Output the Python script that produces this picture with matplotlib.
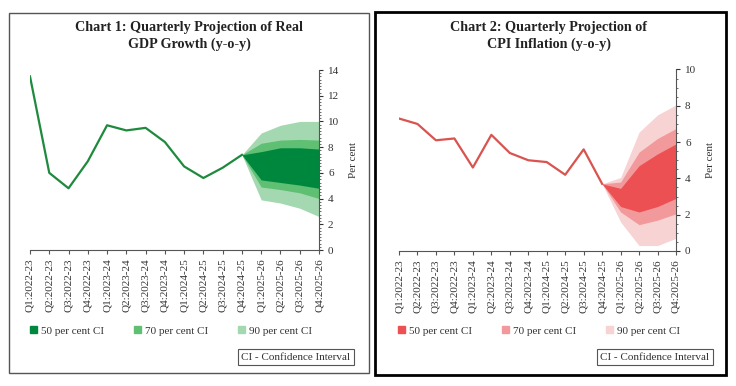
import matplotlib
matplotlib.use("Agg")
import matplotlib.pyplot as plt
from matplotlib.patches import Patch, Rectangle
from matplotlib.ticker import MultipleLocator

plt.rcParams['font.family'] = ['Liberation Serif', 'DejaVu Serif']

quarters = ["Q1:2022-23", "Q2:2022-23", "Q3:2022-23", "Q4:2022-23",
            "Q1:2023-24", "Q2:2023-24", "Q3:2023-24", "Q4:2023-24",
            "Q1:2024-25", "Q2:2024-25", "Q3:2024-25", "Q4:2024-25",
            "Q1:2025-26", "Q2:2025-26", "Q3:2025-26", "Q4:2025-26"]

# actual values (Q1:2022-23 .. Q4:2024-25)
gdp_actual = [13.5, 6.0, 4.8, 6.9, 9.7, 9.3, 9.5, 8.4, 6.5, 5.6, 6.4, 7.4]
cpi_actual = [7.3, 7.0, 6.1, 6.2, 4.6, 6.4, 5.4, 5.0, 4.9, 4.2, 5.6, 3.7]

# fan bands, Q4:2024-25 .. Q4:2025-26
gdp_90_hi = [7.4, 9.1, 9.7, 10.0, 10.0]
gdp_70_hi = [7.4, 8.3, 8.55, 8.6, 8.55]
gdp_50_hi = [7.4, 7.65, 7.95, 7.95, 7.85]
gdp_50_lo = [7.4, 5.45, 5.25, 5.05, 4.8]
gdp_70_lo = [7.4, 4.9, 4.7, 4.45, 4.0]
gdp_90_lo = [7.4, 3.9, 3.65, 3.25, 2.6]

cpi_90_hi = [3.7, 4.05, 6.55, 7.5, 8.05]
cpi_70_hi = [3.7, 3.8, 5.45, 6.2, 6.75]
cpi_50_hi = [3.7, 3.45, 4.7, 5.35, 5.9]
cpi_50_lo = [3.7, 2.45, 2.15, 2.45, 2.9]
cpi_70_lo = [3.7, 2.15, 1.45, 1.7, 2.05]
cpi_90_lo = [3.7, 1.6, 0.3, 0.3, 0.7]

W, H = 736, 386
fig = plt.figure(figsize=(W / 100, H / 100), dpi=100)


def px(x0, y0, x1, y1):
    return [x0 / W, 1 - y1 / H, (x1 - x0) / W, (y1 - y0) / H]


def panel(rect, lw, color):
    fig.patches.append(Rectangle((rect[0], rect[1]), rect[2], rect[3],
                                 transform=fig.transFigure, fill=False,
                                 lw=lw, edgecolor=color))


def draw(ax, actual, bands, colors, line_color, ymax, minor, title,
         title_x, legend_x, box_x):
    x = list(range(len(quarters)))
    xf = x[len(actual) - 1:]
    hi90, hi70, hi50, lo50, lo70, lo90 = bands
    ax.fill_between(xf, lo90, hi90, color=colors[2], lw=0)
    ax.fill_between(xf, lo70, hi70, color=colors[1], lw=0)
    ax.fill_between(xf, lo50, hi50, color=colors[0], lw=0)
    ax.plot(x[:len(actual)], actual, color=line_color, lw=1.6)

    ax.set_xlim(0, len(quarters) - 1)
    ax.set_ylim(0, ymax)
    ax.set_xticks(x)
    ax.set_xticklabels(quarters, rotation=90, fontsize=8, color='#333333')
    ax.yaxis.tick_right()
    ax.yaxis.set_label_position('right')
    ax.yaxis.set_major_locator(MultipleLocator(2))
    ax.yaxis.set_minor_locator(MultipleLocator(minor))
    ax.tick_params(axis='y', labelsize=8, colors='#333333', length=3)
    ax.tick_params(axis='y', which='minor', length=1.5, color='#555555')
    ax.tick_params(axis='x', length=3, color='#555555', pad=3)
    ax.set_ylabel('Per cent', fontsize=8, color='#333333', labelpad=7)
    for s in ['top', 'left']:
        ax.spines[s].set_visible(False)
    ax.spines['bottom'].set_color('#555555')
    ax.spines['right'].set_color('#555555')
    ax.patch.set_alpha(0)

    fig.text(title_x / W, 1 - 36 / H, title, ha='center', va='center',
             fontsize=10.2, fontweight='bold', color='#222222',
             linespacing=1.3)

    handles = [Patch(color=c, label=l) for c, l in
               zip(colors, ['50 per cent CI', '70 per cent CI', '90 per cent CI'])]
    fig.legend(handles=handles, loc='center left',
               bbox_to_anchor=(legend_x / W, 1 - 331 / H), ncol=3,
               frameon=False, fontsize=8, handlelength=0.6,
               handleheight=0.6, handletextpad=0.4, columnspacing=2.7,
               labelcolor='#333333')
    fig.text(box_x / W, 1 - 357 / H, 'CI - Confidence Interval', ha='center',
             va='center', fontsize=8, color='#333333',
             bbox=dict(boxstyle='square,pad=0.35', fc='white',
                       ec='#555555', lw=0.8))


panel(px(9, 13, 369, 373), 1.0, '#555555')
panel(px(375, 12, 726, 375), 2.0, 'black')

ax1 = fig.add_axes(px(30, 70, 319, 250))
draw(ax1, gdp_actual,
     [gdp_90_hi, gdp_70_hi, gdp_50_hi, gdp_50_lo, gdp_70_lo, gdp_90_lo],
     ['#00873e', '#5fbf72', '#a4d8b0'], '#1f8a3e', 14, 0.25,
     'Chart 1: Quarterly Projection of Real\nGDP Growth (y-o-y)',
     189, 20, 296)

ax2 = fig.add_axes(px(399, 69.5, 676, 251))
draw(ax2, cpi_actual,
     [cpi_90_hi, cpi_70_hi, cpi_50_hi, cpi_50_lo, cpi_70_lo, cpi_90_lo],
     ['#ec5053', '#f29a9b', '#f8d3d4'], '#d9534f', 10, 0.5,
     'Chart 2: Quarterly Projection of\nCPI Inflation (y-o-y)',
     549, 388, 655)

fig.savefig('out.png', dpi=100)
